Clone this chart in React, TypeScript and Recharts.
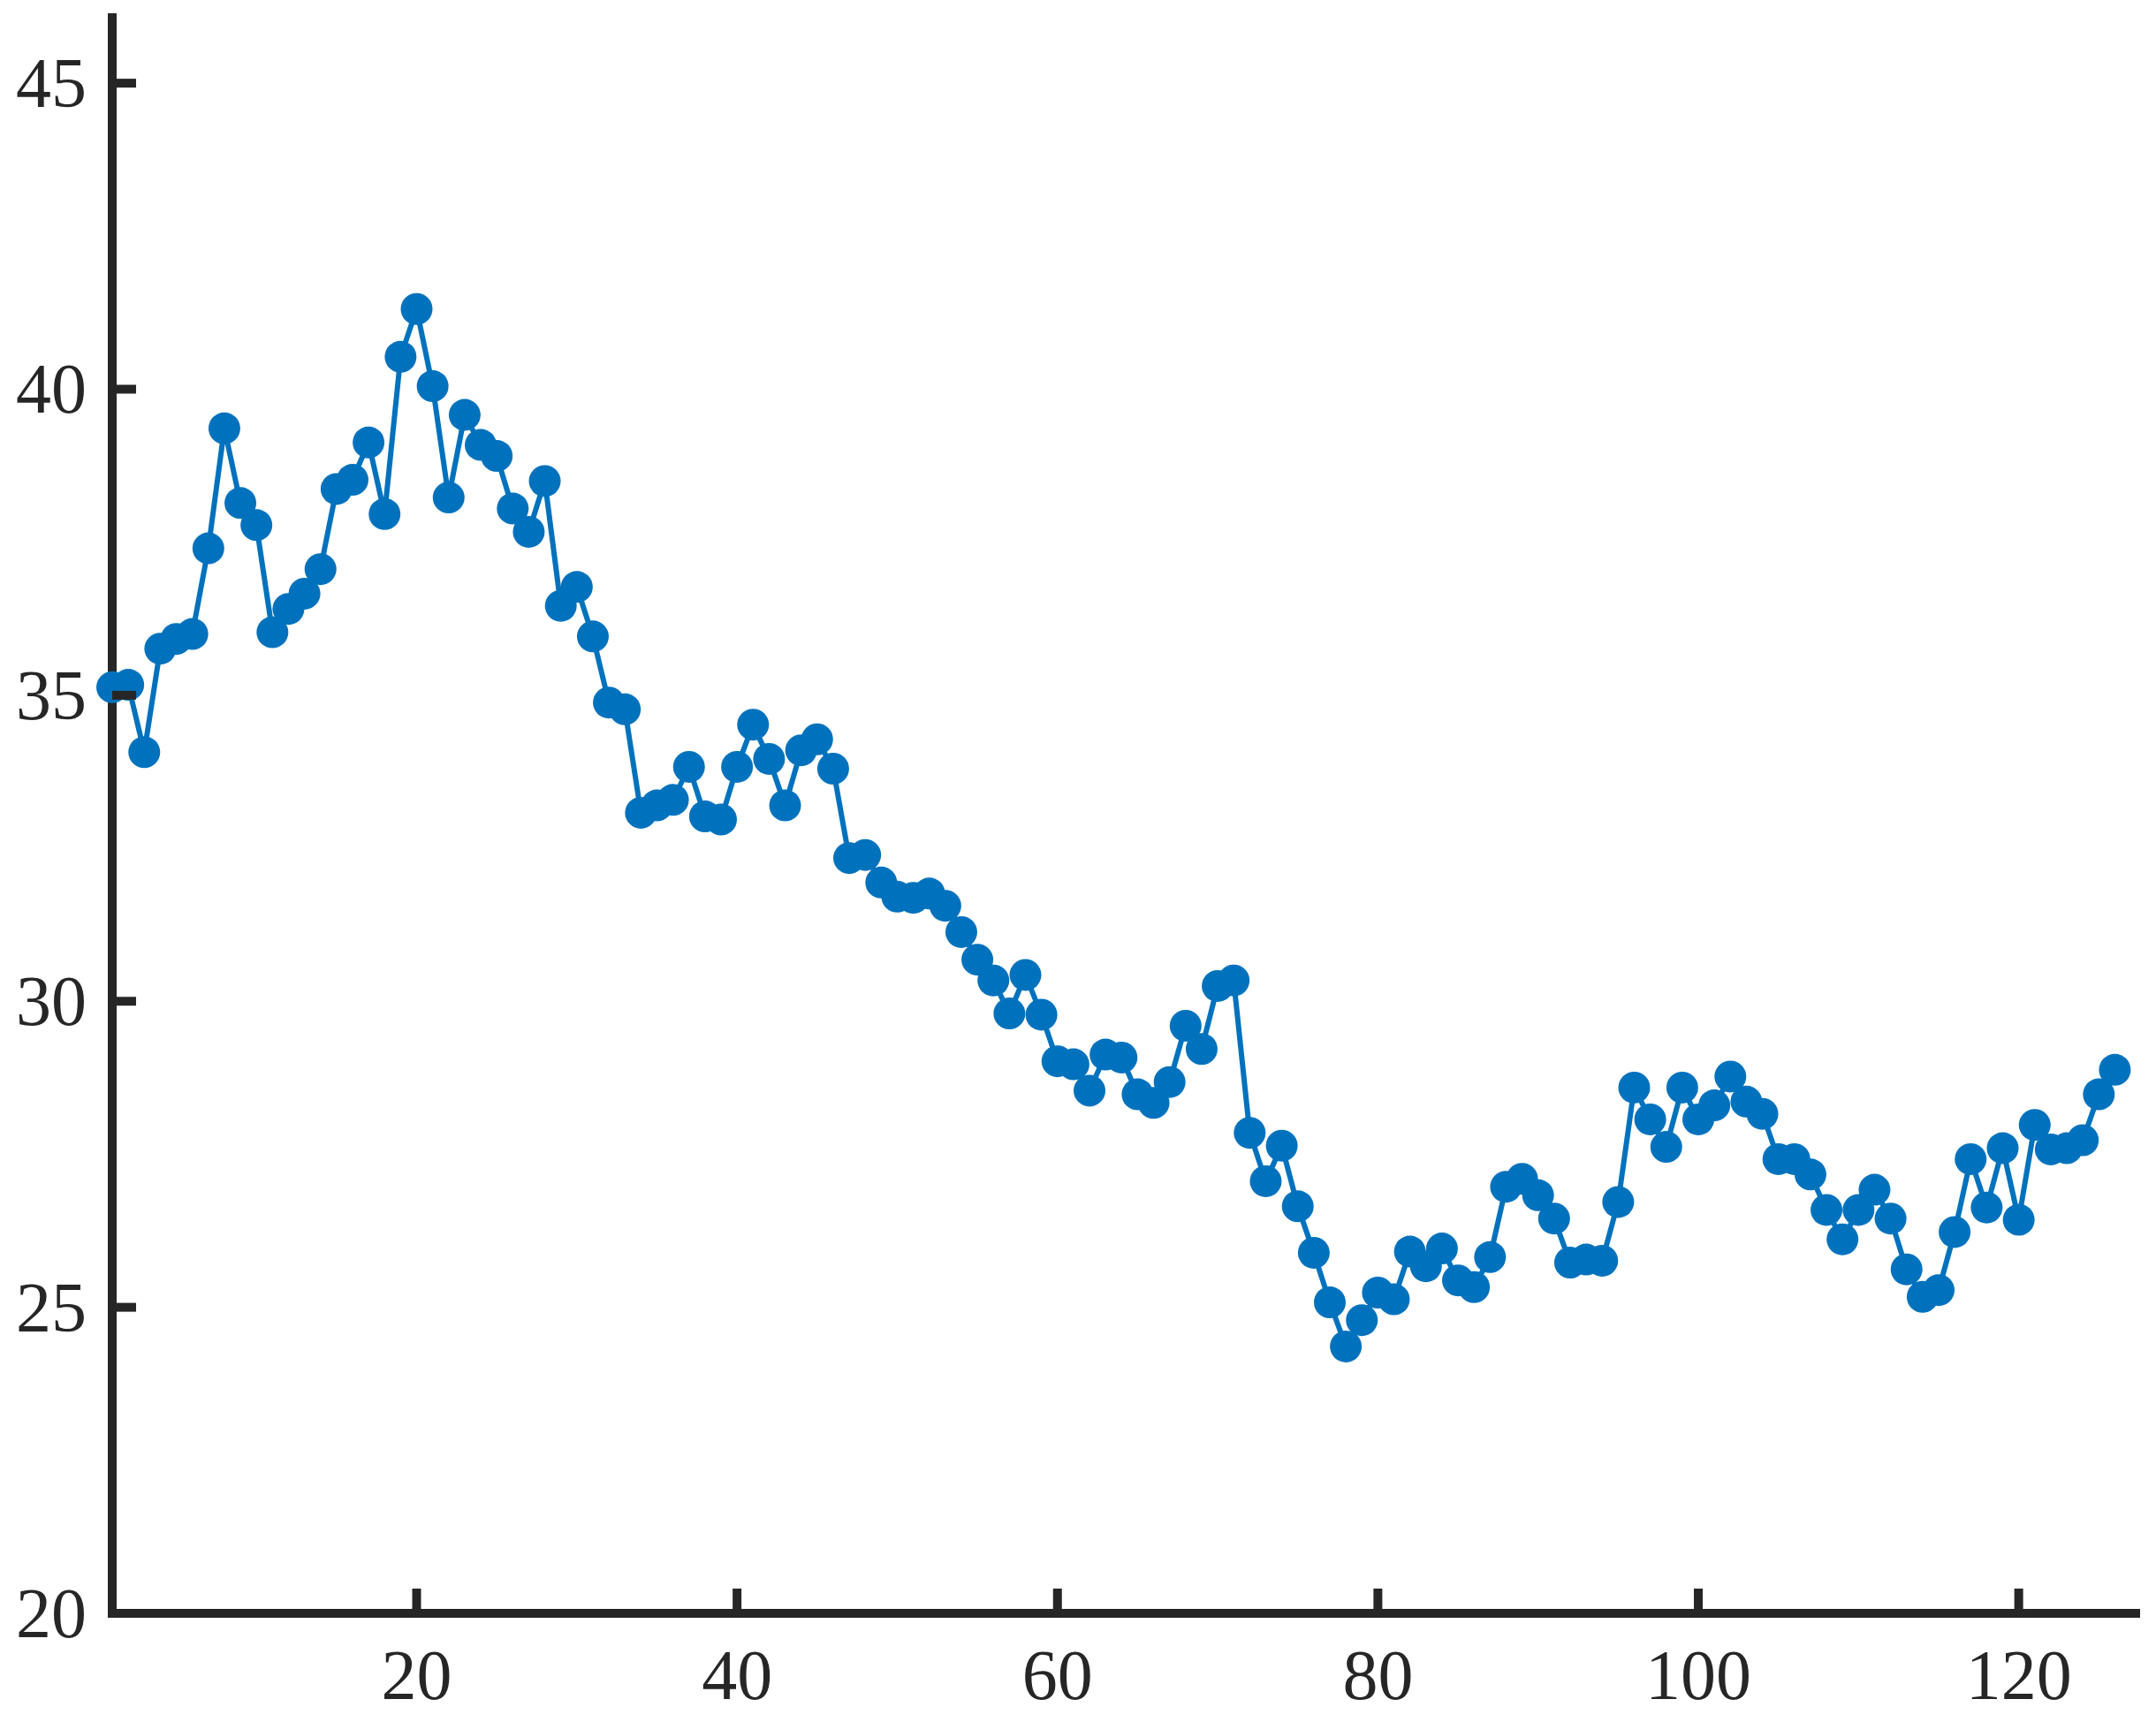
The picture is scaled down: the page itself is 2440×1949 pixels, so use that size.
import React from 'react';
import { LineChart, Line, XAxis, YAxis } from 'recharts';

const values: number[] = [
  35.13, 35.17, 34.07, 35.76, 35.92, 36.0, 37.4, 39.36, 38.14, 37.78,
  36.03, 36.41, 36.66, 37.06, 38.37, 38.52, 39.13, 37.96, 40.53, 41.31,
  40.05, 38.23, 39.58, 39.09, 38.91, 38.05, 37.67, 38.5, 36.46, 36.77,
  35.96, 34.88, 34.77, 33.08, 33.2, 33.29, 33.83, 33.02, 32.97, 33.83,
  34.52, 33.96, 33.2, 34.1, 34.28, 33.8, 32.34, 32.39, 31.94, 31.71,
  31.69, 31.76, 31.56, 31.13, 30.68, 30.34, 29.8, 30.43, 29.78, 29.02,
  28.97, 28.54, 29.13, 29.08, 28.48, 28.34, 28.68, 29.6, 29.22, 30.25,
  30.34, 27.85, 27.06, 27.64, 26.65, 25.89, 25.08, 24.36, 24.79, 25.24,
  25.13, 25.91, 25.67, 25.96, 25.44, 25.33, 25.82, 26.97, 27.1, 26.83,
  26.45, 25.73, 25.78, 25.76, 26.72, 28.59, 28.07, 27.62, 28.59, 28.07,
  28.3, 28.77, 28.36, 28.16, 27.42, 27.42, 27.17, 26.59, 26.11, 26.59,
  26.92, 26.45, 25.62, 25.17, 25.28, 26.23, 27.42, 26.63, 27.6, 26.43,
  27.98, 27.58, 27.6, 27.73, 28.48, 28.88,
];

const xTicks: number[] = [20, 40, 60, 80, 100, 120];
const yTicks: number[] = [20, 25, 30, 35, 40, 45];

const data = values.map((v, i) => ({ x: i + 1, y: v }));

const AXIS_COLOR = '#262626';
const LINE_COLOR = '#0072BD';
const FONT = "'Liberation Serif', 'Times New Roman', serif";

const YTick = (props: any) => {
  const { x, y, payload } = props;
  return (
    <g>
      <line x1={x} x2={x + 27} y1={y} y2={y} stroke={AXIS_COLOR} strokeWidth={10} />
      <text x={x - 29} y={y + 27} textAnchor="end" fontFamily={FONT} fontSize={80} fill={AXIS_COLOR}>
        {payload.value}
      </text>
    </g>
  );
};

const XTick = (props: any) => {
  const { x, y, payload } = props;
  return (
    <g>
      <line x1={x} x2={x} y1={y} y2={y - 28} stroke={AXIS_COLOR} strokeWidth={10} />
      <text x={x} y={y + 97} textAnchor="middle" fontFamily={FONT} fontSize={80} fill={AXIS_COLOR}>
        {payload.value}
      </text>
    </g>
  );
};

export default function App() {
  return (
    <div style={{ position: 'absolute', left: 0, top: 0, width: 2440, height: 1949, background: '#ffffff' }}>
      <LineChart
        width={2440}
        height={1949}
        data={data}
        margin={{ top: 20, right: 23, bottom: 23, left: 0 }}
      >
        <XAxis
          dataKey="x"
          type="number"
          domain={[1, 127.3]}
          ticks={xTicks}
          height={100}
          tickSize={0}
          tickMargin={0}
          tickLine={false}
          tick={<XTick />}
          axisLine={{ stroke: AXIS_COLOR, strokeWidth: 10, strokeLinecap: 'square' }}
          interval={0}
        />
        <YAxis
          type="number"
          domain={[20, 46.07]}
          ticks={yTicks}
          width={127}
          tickSize={0}
          tickMargin={0}
          tickLine={false}
          tick={<YTick />}
          axisLine={{ stroke: AXIS_COLOR, strokeWidth: 10, strokeLinecap: 'square' }}
          interval={0}
        />
        <Line
          type="linear"
          dataKey="y"
          stroke={LINE_COLOR}
          strokeWidth={6}
          dot={{ r: 18, fill: LINE_COLOR, stroke: 'none' }}
          activeDot={false}
          isAnimationActive={false}
        />
      </LineChart>
    </div>
  );
}
